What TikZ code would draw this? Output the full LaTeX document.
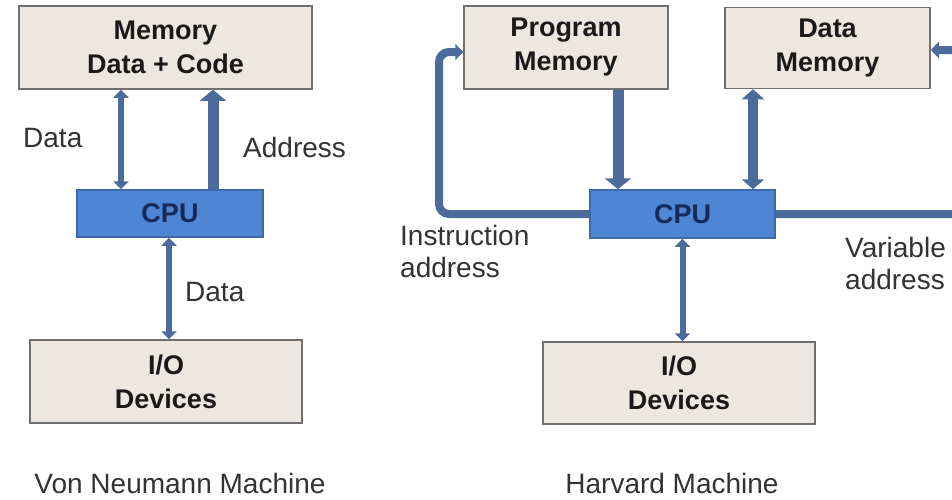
\documentclass[tikz,border=0pt]{standalone}
\usepackage{fontspec}
\setmainfont{Liberation Sans}
\usetikzlibrary{arrows.meta}
\definecolor{boxfill}{HTML}{ECE8E0}
\definecolor{boxline}{HTML}{707070}
\definecolor{cpufill}{HTML}{4F86D4}
\definecolor{cpuline}{HTML}{3D68AC}
\definecolor{cputext}{HTML}{15295A}
\definecolor{arrowc}{HTML}{4A6B9C}
\definecolor{textdark}{HTML}{1A1A1A}
\definecolor{labeltext}{HTML}{333333}
\begin{document}
\begin{tikzpicture}[x=1pt,y=-1pt,
  membox/.style={draw=boxline, line width=1.5pt, fill=boxfill, inner sep=0pt, align=center,
    font=\bfseries\fontsize{27}{34}\selectfont, text=textdark},
  cpubox/.style={draw=cpuline, line width=1.5pt, fill=cpufill, inner sep=0pt,
    font=\bfseries\fontsize{27}{32}\selectfont, text=cputext},
  lbl/.style={font=\fontsize{28}{32}\selectfont, text=labeltext, inner sep=0pt, anchor=west, align=left},
  title/.style={font=\fontsize{28}{32}\selectfont, text=labeltext, inner sep=0pt},
  thinbi/.style={draw=arrowc, line width=6pt, {Triangle[width=15pt,length=8pt]}-{Triangle[width=15pt,length=8pt]}},
  thickbi/.style={draw=arrowc, line width=10pt, {Triangle[width=22pt,length=10pt]}-{Triangle[width=22pt,length=10pt]}},
  thickone/.style={draw=arrowc, line width=11pt, -{Triangle[width=26pt,length=11pt]}},
  loopline/.style={draw=arrowc, line width=8pt, rounded corners=10pt, -{Triangle[width=16pt,length=8pt]}}]
\useasboundingbox (0,0) rectangle (952,499);
\fill[white] (0,0) rectangle (952,499);
\clip (0,0) rectangle (952,499);

% Von Neumann
\node[membox, minimum width=293pt, minimum height=83pt] (vnmem) at (165.5,47.5) {Memory\\Data + Code};
\node[cpubox, minimum width=186pt, minimum height=47pt] (vncpu) at (170,213.5) {CPU};
\node[membox, minimum width=272pt, minimum height=83pt] (vnio) at (166,381.5) {I/O\\Devices};

\draw[thinbi] ([xshift=-49pt]vncpu.north |- vnmem.south) -- ([xshift=-49pt]vncpu.north);
\draw[thickone] ([xshift=43pt]vncpu.north) -- ([xshift=43pt]vncpu.north |- vnmem.south);
\draw[thinbi] ([xshift=-1pt]vncpu.south) -- ([xshift=-1pt]vncpu.south |- vnio.north);

\node[lbl] (ldata1) at (23,138) {Data};
\node[lbl] (laddr) at (243,147) {Address};
\node[lbl] (ldata2) at (185,292) {Data};
\node[title] (tvn) at (180,483) {Von Neumann Machine};

% Harvard
\node[membox, minimum width=204pt, minimum height=83pt] (hpm) at (566,47.5) {Program\\Memory};
\node[membox, minimum width=205pt, minimum height=81pt] (hdm) at (827.5,48) {Data\\Memory};
\node[cpubox, minimum width=185pt, minimum height=48pt] (hcpu) at (682.5,214) {CPU};
\node[membox, minimum width=272pt, minimum height=82pt] (hio) at (679,383) {I/O\\Devices};

\coordinate (lturn) at (439,214);
\coordinate (rturn) at (963,214);

\draw[thickone] ([xshift=-64.5pt]hcpu.north |- hpm.south) -- ([xshift=-64.5pt]hcpu.north);
\draw[thickbi] ([xshift=70.5pt]hcpu.north |- hdm.south) -- ([xshift=70.5pt]hcpu.north);
\draw[thinbi] (hcpu.south) -- (hcpu.south |- hio.north);
\draw[loopline] (hcpu.west) -- (hcpu.west -| lturn) |- ([yshift=-4.5pt]hpm.west);
\draw[loopline] (hcpu.east) -- (hcpu.east -| rturn) |- ([yshift=-2pt]hdm.east);

\node[lbl] (linstr) at (400,251.5) {Instruction\\address};
\node[lbl] (lvar) at (845,263) {Variable\\address};
\node[title] (thv) at (672,483) {Harvard Machine};
\end{tikzpicture}
\end{document}
